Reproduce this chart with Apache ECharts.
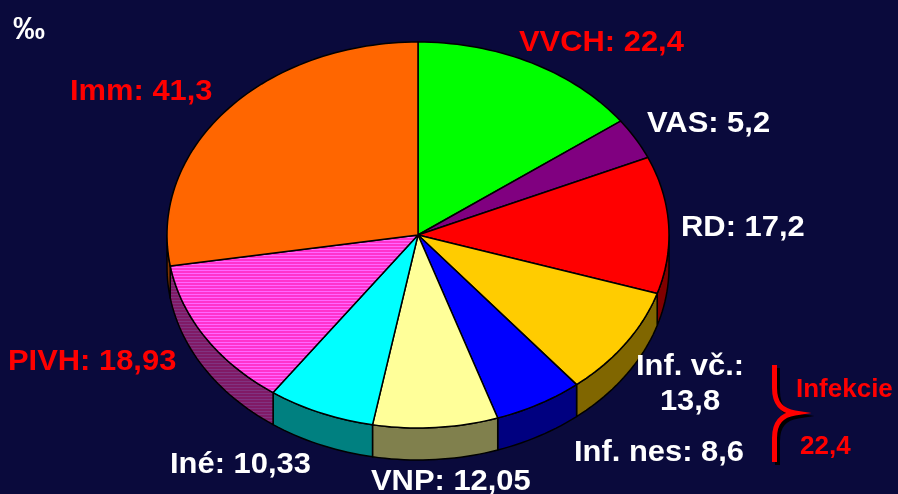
<!DOCTYPE html>
<html><head><meta charset="utf-8">
<style>html,body{margin:0;padding:0;background:#0a0a3c}#c{width:898px;height:494px}</style>
<script src="https://cdn.jsdelivr.net/npm/echarts@6/dist/echarts.min.js"></script>
</head><body><div id="c"></div>
<script>
const categories = ['VVCH','VAS','RD','Inf. vč.','Inf. nes','VNP','Iné','PIVH','Imm'];
const values = [22.4,5.2,17.2,13.8,8.6,12.05,10.33,18.93,41.3];
const faceColors = ['#00ff00','#800080','#ff0000','#ffcc00','#0000ff','#ffff99','#00ffff','stripe','#ff6600'];
const wallColors = ['#008000','#400040','#800000','#806600','#000080','#80804d','#008080','stripeDark','#803300'];
const labelColors = ['#ff0000','#ffffff','#ffffff','#ffffff','#ffffff','#ffffff','#ffffff','#ff0000','#ff0000'];

const cx = 418, cy = 235, rx = 251, ry = 193, depth = 32;
const labelPlaces = [[519,43],[647,124],[681,228],[690,384],[574,453],[371,482],[170,465],[8,362],[70,92]];
const total = values.reduce((a,b)=>a+b,0);
const fmt = v => String(v).replace('.',',');

function stripe(c1,c2){
  const k=document.createElement('canvas');k.width=4;k.height=3;
  const g=k.getContext('2d');g.fillStyle=c1;g.fillRect(0,0,4,3);
  g.fillStyle=c2;g.fillRect(0,0,4,1);
  return {image:k,repeat:'repeat'};
}
const pats={stripe:stripe('#ff33cc','#ff66ff'),stripeDark:stripe('#801a66','#803380')};
const paint=c=>pats[c]||c;
const pt=(deg,dy)=>{const t=deg*Math.PI/180;return [cx+rx*Math.sin(t),cy-ry*Math.cos(t)+(dy||0)];};
function arc(a,b,dy){const n=Math.max(2,Math.ceil((b-a)/1.5));const o=[];
  for(let i=0;i<=n;i++)o.push(pt(a+(b-a)*i/n,dy));return o;}

const line={stroke:'#000',lineWidth:1.5,lineJoin:'round'};
function renderItem(params,api){
  const i=params.dataIndex;
  const before=values.slice(0,i).reduce((a,b)=>a+b,0);
  const s=before/total*360, e=(before+api.value(0))/total*360;
  const kids=[];
  const a=Math.max(s,90), b=Math.min(e,270);
  if(a<b){
    kids.push({type:'polygon',z2:1,shape:{points:arc(a,b,0).concat(arc(a,b,depth).reverse())},
      style:Object.assign({fill:paint(wallColors[i])},line)});
  }
  kids.push({type:'polygon',z2:2,shape:{points:[[cx,cy]].concat(arc(s,e,0))},
    style:Object.assign({fill:paint(faceColors[i])},line)});
  const two = i===3;
  const p=labelPlaces[i];
  kids.push({type:'text',z2:5,x:p[0],y:p[1],scaleX:1.03,
    style:{text: two ? categories[i]+':\n'+fmt(values[i]) : categories[i]+': '+fmt(values[i]),
      x:0,y:0,fill:labelColors[i],font:'bold 30px "Liberation Sans"',
      align:two?'center':'left',verticalAlign:'middle',lineHeight:35}});
  return {type:'group',children:kids};
}
const brace='M774.5 365 L774.5 388 C774.5 404 782 411 795 413 C782 415 774.5 422 774.5 438 L774.5 462';
function renderBrace(){
  return {type:'group',children:[
    {type:'path',x:3,y:3,shape:{pathData:brace},style:{stroke:'#000',lineWidth:5,fill:null}},
    {type:'path',shape:{pathData:brace},style:{stroke:'#ff0000',lineWidth:5,fill:null}}
  ]};
}
const chart=echarts.init(document.getElementById('c'),null,{renderer:'canvas',width:898,height:494});
chart.setOption({
  animation:false,
  backgroundColor:'#0a0a3c',
  series:[
    {type:'custom',coordinateSystem:'none',renderItem,data:values.map((v,i)=>({name:categories[i],value:[v]})),silent:true},
    {type:'custom',coordinateSystem:'none',renderItem:renderBrace,data:[[0]],silent:true}
  ],
  graphic:[
    {type:'text',z:10,x:13,y:30,style:{text:'‰',fill:'#fff',font:'bold 32px "Liberation Sans"',verticalAlign:'middle'}},
    {type:'text',z:10,x:796,y:390,style:{text:'Infekcie',fill:'#ff0000',font:'bold 26px "Liberation Sans"',verticalAlign:'middle'}},
    {type:'text',z:10,x:800,y:447,style:{text:'22,4',fill:'#ff0000',font:'bold 26px "Liberation Sans"',verticalAlign:'middle'}}
  ]
});
</script></body></html>
